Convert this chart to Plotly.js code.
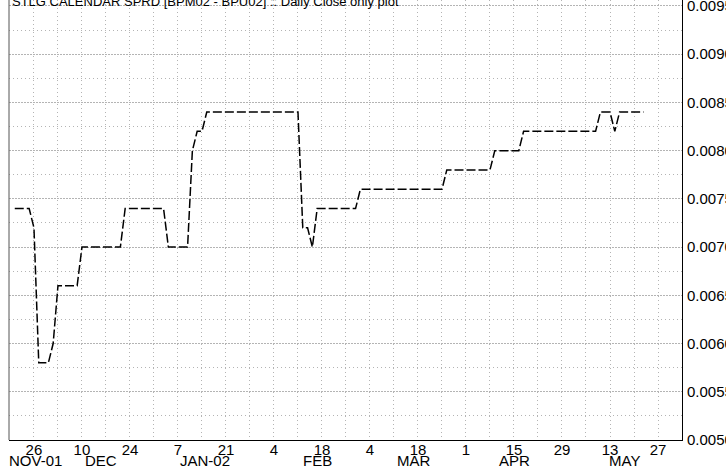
<!DOCTYPE html>
<html>
<head>
<meta charset="utf-8">
<script src="https://cdn.plot.ly/plotly-3.0.1.min.js"></script>
<style>
html,body{margin:0;padding:0;background:#fff;}
#chart{width:726px;height:473px;}
</style>
</head>
<body>
<div id="chart"></div>
<script>
// Daily close values (change points of the step-like series)
var closeDates = [
  '2001-11-20','2001-11-23','2001-11-26','2001-11-27','2001-11-29','2001-11-30',
  '2001-12-03','2001-12-07','2001-12-10','2001-12-20','2001-12-21',
  '2002-01-02','2002-01-03','2002-01-09','2002-01-10','2002-01-11','2002-01-14','2002-01-15',
  '2002-02-11','2002-02-12','2002-02-13','2002-02-14','2002-02-15','2002-02-27','2002-02-28',
  '2002-03-25','2002-03-26','2002-04-08','2002-04-09','2002-04-16','2002-04-17',
  '2002-05-08','2002-05-09','2002-05-13','2002-05-14','2002-05-15','2002-05-22'
];
var closeValues = [
  0.0074,0.0074,0.0072,0.0058,0.0058,0.0060,
  0.0066,0.0066,0.0070,0.0070,0.0074,
  0.0074,0.0070,0.0070,0.0080,0.0082,0.0082,0.0084,
  0.0084,0.0072,0.0072,0.0070,0.0074,0.0074,0.0076,
  0.0076,0.0078,0.0078,0.0080,0.0080,0.0082,
  0.0082,0.0084,0.0084,0.0082,0.0084,0.0084
];

// Weekly x ticks (Mondays) and their labels
var weekTicks = [
  '2001-11-19','2001-11-26','2001-12-03','2001-12-10','2001-12-17','2001-12-24','2001-12-31',
  '2002-01-07','2002-01-14','2002-01-21','2002-01-28','2002-02-04','2002-02-11','2002-02-18',
  '2002-02-25','2002-03-04','2002-03-11','2002-03-18','2002-03-25','2002-04-01','2002-04-08',
  '2002-04-15','2002-04-22','2002-04-29','2002-05-06','2002-05-13','2002-05-20','2002-05-27'
];
var weekLabels = [
  '','26','','10','','24','',
  '7','','21','','4','','18',
  '','4','','18','','1','',
  '15','','29','','13','','27'
];

// Month labels under the day labels
var monthLabelDates = [
  '2001-11-26 10:00','2001-12-14 00:00','2002-01-14 14:00','2002-02-15 00:00',
  '2002-03-15 05:00','2002-04-15 05:00','2002-05-16 02:00'
];
var monthLabels = ['NOV-01','DEC','JAN-02','FEB','MAR','APR','MAY'];

var titleText = 'STLG CALENDAR SPRD [BPM02 - BPU02] :: Daily Close only plot';

var FONT = 'Liberation Sans, Arial, sans-serif';
var GRID = '#b4b4b4';

var trace = {
  x: closeDates,
  y: closeValues,
  type: 'scatter',
  mode: 'lines',
  line: {color: '#000000', width: 1.5, dash: '9px,3px'},
  hoverinfo: 'x+y'
};

var annotations = monthLabels.map(function(t, i){
  return {
    x: monthLabelDates[i], xref: 'x',
    y: 0, yref: 'paper',
    yanchor: 'top', xanchor: 'center',
    yshift: -10,
    text: t, showarrow: false,
    font: {family: FONT, size: 15, color: '#000'}
  };
});
annotations.push({
  x: 0, xref: 'paper', xanchor: 'left', xshift: 1,
  y: 1, yref: 'paper', yanchor: 'bottom', yshift: -11,
  text: titleText, showarrow: false,
  font: {family: FONT, size: 13, color: '#000'}
});

var layout = {
  width: 726, height: 473,
  margin: {l: 9, r: 44, t: 0, b: 33, pad: 0},
  paper_bgcolor: '#ffffff',
  plot_bgcolor: '#ffffff',
  showlegend: false,
  font: {family: FONT, size: 15, color: '#000'},
  xaxis: {
    type: 'date',
    range: ['2001-11-16 19:12', '2002-06-03 00:00'],
    rangebreaks: [{bounds: ['sat', 'mon']}],
    tickmode: 'array',
    tickvals: weekTicks,
    ticktext: weekLabels,
    ticks: '',
    showgrid: true,
    gridcolor: GRID,
    griddash: '1px,3px',
    gridwidth: 1,
    showline: true,
    linecolor: '#000',
    linewidth: 1,
    zeroline: false,
    tickfont: {family: FONT, size: 15, color: '#000'},
    ticklabelstandoff: -4,
    ticklabeloverflow: 'allow'
  },
  yaxis: {
    side: 'right',
    range: [0.0050, 0.009562],
    tickmode: 'linear',
    tick0: 0.0050,
    dtick: 0.0005,
    tickformat: '.4f',
    ticks: '',
    showgrid: true,
    gridcolor: GRID,
    griddash: '2px,1px',
    gridwidth: 1,
    minor: {dtick: 0.00025, tick0: 0.0050, showgrid: true, gridcolor: GRID, griddash: '1px,3px', gridwidth: 1},
    showline: true,
    linecolor: '#000',
    linewidth: 1,
    zeroline: false,
    tickfont: {family: FONT, size: 15, color: '#000'},
    ticklabelstandoff: 1,
    ticklabeloverflow: 'allow'
  },
  shapes: [{
    type: 'line', xref: 'paper', yref: 'paper',
    x0: 0, x1: 0, y0: 0, y1: 1,
    line: {color: '#555', width: 1}
  }],
  annotations: annotations
};

Plotly.newPlot('chart', [trace], layout, {displayModeBar: false, staticPlot: true});
</script>
</body>
</html>
